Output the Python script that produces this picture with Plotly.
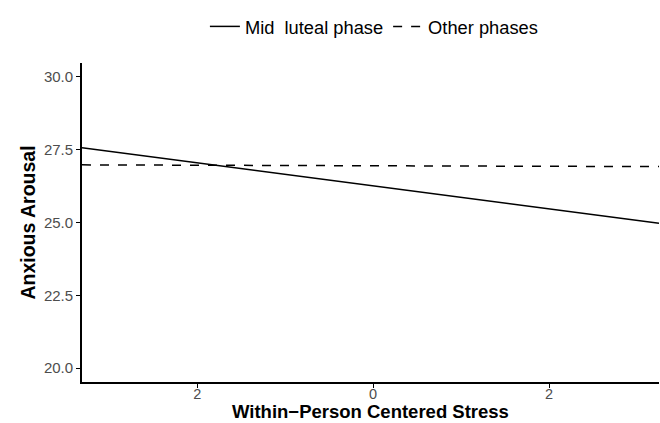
import plotly.graph_objects as go

x_vals = [-3.31, 3.25]
mid_luteal = [27.57, 24.97]
other_phases = [26.98, 26.92]
x_tickvals = [-2, 0, 2]
x_ticktext = ["2", "0", "2"]
y_tickvals = [20.0, 22.5, 25.0, 27.5, 30.0]
y_ticktext = ["20.0", "22.5", "25.0", "27.5", "30.0"]
x_title = "Within\u2212Person Centered Stress"
y_title = "Anxious Arousal"

fig = go.Figure()
fig.add_trace(go.Scatter(x=x_vals, y=mid_luteal, mode="lines", name="Mid  luteal phase",
                         line=dict(color="black", width=1.5, dash="solid")))
fig.add_trace(go.Scatter(x=x_vals, y=other_phases, mode="lines", name="Other phases",
                         line=dict(color="black", width=1.5, dash="dash")))

font_family = "Liberation Sans, Arial, Helvetica, sans-serif"
fig.update_layout(
    width=660, height=423,
    paper_bgcolor="white", plot_bgcolor="white",
    margin=dict(l=82, r=1, t=63, b=41, autoexpand=False),
    font=dict(family=font_family, color="black", size=15),
    showlegend=True,
    legend=dict(orientation="h", x=0.213, xanchor="left", y=(423 - 8) / 423, yref="container",
                yanchor="top", font=dict(size=18.3, color="black"),
                tracegroupgap=0, traceorder="normal", bgcolor="rgba(0,0,0,0)"),
    xaxis=dict(range=[-3.31, 3.25], tickvals=x_tickvals, ticktext=x_ticktext, automargin=False,
               showgrid=False, zeroline=False, showline=True, linecolor="black", linewidth=1.8,
               ticks="outside", ticklen=4, tickcolor="black", tickwidth=1.2,
               ticklabelstandoff=-6,
               tickfont=dict(size=14.5, color="#4d4d4d")),
    yaxis=dict(range=[19.52, 30.48], tickvals=y_tickvals, ticktext=y_ticktext, automargin=False,
               showgrid=False, zeroline=False, showline=True, linecolor="black", linewidth=1.8,
               ticks="outside", ticklen=4, tickcolor="black", tickwidth=1.2,
               tickfont=dict(size=15, color="#4d4d4d"),
               title=dict(text="<b>" + y_title + "</b>", font=dict(size=19.5), standoff=3)),
)
fig.add_annotation(text="<b>" + x_title + "</b>", xref="paper", yref="paper",
                   x=0.5, y=(382 - 411) / 319, xanchor="center", yanchor="middle",
                   showarrow=False, font=dict(size=18.5, color="black"))

fig.write_html("out.html", config={"displayModeBar": False},
               post_script="document.body.style.margin='0';")
